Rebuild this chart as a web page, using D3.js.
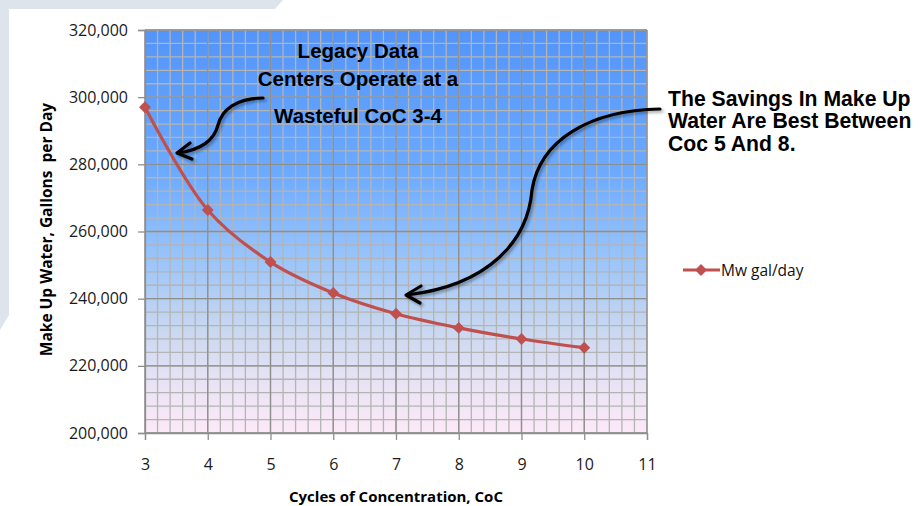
<!DOCTYPE html>
<html><head><meta charset="utf-8">
<script src="https://cdn.jsdelivr.net/npm/d3@7/dist/d3.min.js"></script>
<style>body{margin:0;background:#fff}svg{display:block}</style>
</head><body>
<svg id="c" width="920" height="506"></svg>
<script>
const categories = [3, 4, 5, 6, 7, 8, 9, 10];
const mwValues = [297000, 266400, 250900, 241700, 235500, 231300, 228000, 225400];
const yTicks = [200000, 220000, 240000, 260000, 280000, 300000, 320000];
const xTicks = [3, 4, 5, 6, 7, 8, 9, 10, 11];
const seriesName = "Mw gal/day";
const legacyNote = ["Legacy Data", "Centers Operate at a", "Wasteful CoC 3-4"];
const savingsNote = ["The Savings In Make Up", "Water Are Best Between", "Coc 5 And 8."];

const svg = d3.select("#c");
const L = 145, R = 647, T = 30, B = 433;
const x = d3.scaleLinear().domain([3, 11]).range([L, R]);
const y = d3.scaleLinear().domain([200000, 320000]).range([B, T]);

// slide background frame
svg.append("path").attr("d","M0,0 L283,0 L275,9 L9,9 L9,315 L0,330 Z").attr("fill","#dee4eb");

const defs = svg.append("defs");
const g = defs.append("linearGradient").attr("id","bg").attr("x1",0).attr("y1",0).attr("x2",0).attr("y2",1);
[[0,"#5294fa"],[0.35,"#6caaff"],[0.55,"#95c2fb"],[0.72,"#c3d5f0"],[0.87,"#e7e3f4"],[1,"#fde9f8"]]
  .forEach(s=>g.append("stop").attr("offset",s[0]).attr("stop-color",s[1]));
const f = defs.append("filter").attr("id","sh").attr("x","-20%").attr("y","-20%").attr("width","140%").attr("height","140%");
f.append("feDropShadow").attr("dx",2).attr("dy",2).attr("stdDeviation",1.5).attr("flood-color","#000").attr("flood-opacity",0.35);

svg.append("rect").attr("x",L).attr("y",T).attr("width",R-L).attr("height",B-T).attr("fill","url(#bg)");

// minor grid
const minorX = d3.range(3, 11.0001, 0.2);
const minorY = d3.range(200000, 320001, 4000);
svg.append("g").selectAll("line").data(minorX).join("line")
  .attr("x1",d=>x(d)).attr("x2",d=>x(d)).attr("y1",T).attr("y2",B)
  .attr("stroke","#b4b4b4").attr("stroke-width",1.3);
svg.append("g").selectAll("line").data(minorY).join("line")
  .attr("y1",d=>y(d)).attr("y2",d=>y(d)).attr("x1",L).attr("x2",R)
  .attr("stroke","#b4b4b4").attr("stroke-width",1.3);
// major grid
svg.append("g").selectAll("line").data(xTicks).join("line")
  .attr("x1",d=>x(d)).attr("x2",d=>x(d)).attr("y1",T).attr("y2",B)
  .attr("stroke","#8e8e8e").attr("stroke-width",1.3);
svg.append("g").selectAll("line").data(yTicks).join("line")
  .attr("y1",d=>y(d)).attr("y2",d=>y(d)).attr("x1",L).attr("x2",R)
  .attr("stroke","#8e8e8e").attr("stroke-width",1.3);

// axes
const fmt = d3.format(",");
const ya = svg.append("g").attr("transform",`translate(${L},0)`)
  .call(d3.axisLeft(y).tickValues(yTicks).tickFormat(fmt).tickSize(7).tickPadding(10));
const xa = svg.append("g").attr("transform",`translate(0,${B})`)
  .call(d3.axisBottom(x).tickValues(xTicks).tickFormat(d3.format("d")).tickSize(7).tickPadding(19));
[ya, xa].forEach(a=>{
  a.select(".domain").attr("stroke","#8e8e8e").attr("stroke-width",1.3);
  a.selectAll(".tick line").attr("stroke","#8e8e8e").attr("stroke-width",1.3);
  a.selectAll("text").attr("font-family","'Open Sans', sans-serif").attr("font-size",16).attr("fill","#1a1a1a");
});

// axis titles
svg.append("text").attr("x",(L+R)/2).attr("y",502).attr("text-anchor","middle")
  .attr("font-family","'Open Sans', sans-serif").attr("font-weight","bold").attr("font-size",15).attr("fill","#000")
  .text("Cycles of Concentration, CoC");
svg.append("text").attr("transform",`translate(52,${(T+B)/2 - 2}) rotate(-90)`).attr("text-anchor","middle")
  .attr("font-family","'Open Sans', sans-serif").attr("font-weight","bold").attr("font-size",15.5).attr("fill","#000")
  .attr("xml:space","preserve").text("Make Up Water, Gallons  per Day");

// series
const pts = categories.map((c,i)=>[x(c), y(mwValues[i])]);
svg.append("path").attr("d", d3.line().curve(d3.curveCatmullRom.alpha(0.5))(pts))
  .attr("fill","none").attr("stroke","#c0504d").attr("stroke-width",3.2);
const diamond = d3.symbol().type(d3.symbolDiamond2).size(90);
svg.append("g").selectAll("path").data(pts).join("path")
  .attr("transform",d=>`translate(${d[0]},${d[1]})`).attr("d",diamond).attr("fill","#c0504d");

// legend
svg.append("line").attr("x1",683).attr("x2",720).attr("y1",270).attr("y2",270).attr("stroke","#c0504d").attr("stroke-width",3.2);
svg.append("path").attr("transform","translate(701,270)").attr("d",diamond).attr("fill","#c0504d");
svg.append("text").attr("x",721).attr("y",275.5).attr("font-family","'Open Sans', sans-serif").attr("font-size",15.5).attr("fill","#111").text(seriesName);

// annotations
const ann = svg.append("g").attr("font-family","'Liberation Sans', Arial, sans-serif").attr("font-weight","bold").attr("fill","#000");
ann.selectAll("text.l").data(legacyNote).join("text").attr("class","l").attr("font-size",20.5)
  .attr("x",358).attr("y",(d,i)=>[58,86,123][i]).attr("text-anchor","middle").text(d=>d);
ann.selectAll("text.s").data(savingsNote).join("text").attr("class","s").attr("font-size",21.2)
  .attr("x",668).attr("y",(d,i)=>105.5+i*22.5).text(d=>d);

// arrows
const ar = svg.append("g").attr("fill","none").attr("stroke","#000").attr("stroke-width",3.2)
  .attr("stroke-linecap","round").attr("stroke-linejoin","round").attr("filter","url(#sh)");
ar.append("path").attr("d","M263,98 C236,98 222,110 218,125 C214,141 200,150 178,153");
ar.append("path").attr("d","M190,143 L177,153 L192,159");
ar.append("path").attr("d","M660,109 C590,110 540,140 532,190 C528,240 490,285 407,295");
ar.append("path").attr("d","M421,286 L406,295 L420,303");
</script>
</body></html>
